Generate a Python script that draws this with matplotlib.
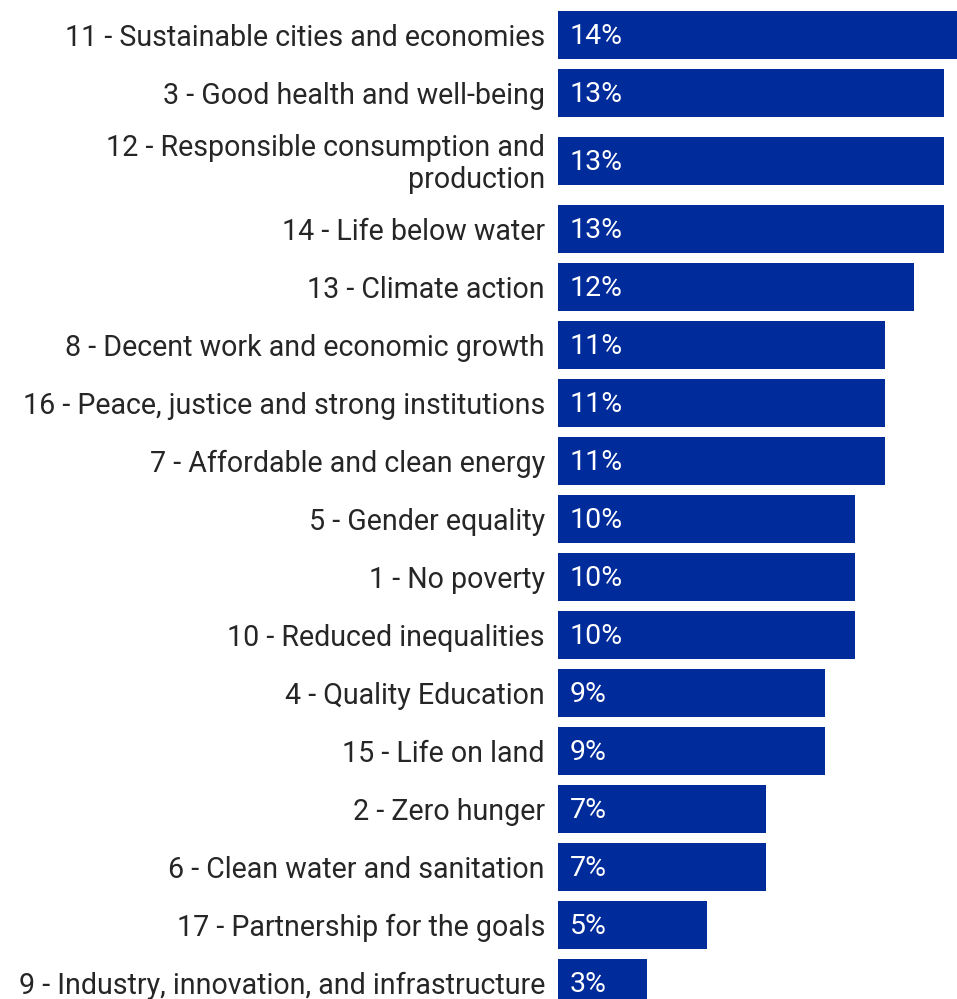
import matplotlib.pyplot as plt
from matplotlib import transforms

goals = [
    "11 - Sustainable cities and economies",
    "3 - Good health and well-being",
    "12 - Responsible consumption and\nproduction",
    "14 - Life below water",
    "13 - Climate action",
    "8 - Decent work and economic growth",
    "16 - Peace, justice and strong institutions",
    "7 - Affordable and clean energy",
    "5 - Gender equality",
    "1 - No poverty",
    "10 - Reduced inequalities",
    "4 - Quality Education",
    "15 - Life on land",
    "2 - Zero hunger",
    "6 - Clean water and sanitation",
    "17 - Partnership for the goals",
    "9 - Industry, innovation, and infrastructure",
]
shares = [14, 13, 13, 13, 12, 11, 11, 11, 10, 10, 10, 9, 9, 7, 7, 5, 3]

plt.rcParams["font.family"] = ["Roboto", "DejaVu Sans"]

W, H = 957, 999
fig = plt.figure(figsize=(W / 100, H / 100), dpi=100)
ax = fig.add_axes([558 / W, 0, 1 - 558 / W, 1])

# row positions in pixel units; wrapped labels get a little extra room
pitch, extra = 58, 10
ypos = []
y = 35
for i, g in enumerate(goals):
    if i > 0:
        y += pitch
        if "\n" in g or "\n" in goals[i - 1]:
            y += extra
    ypos.append(y)

ax.barh(ypos, shares, height=48, color="#002b9a", edgecolor="none")
for yy, v in zip(ypos, shares):
    ax.text(0.4, yy + 2, f"{v}%", color="white", fontsize=20.5, va="center", ha="left")

ax.set_yticks(ypos)
ax.set_yticklabels(goals, fontsize=20.6, color="#262626", linespacing=1.2)
ax.tick_params(axis="y", length=0, pad=9.4)
ax.set_xticks([])
ax.set_ylim(H, 0)
ax.set_xlim(0, 399 / 29.7)
for s in ax.spines.values():
    s.set_visible(False)

# nudge wrapped labels up a touch
shift = transforms.ScaledTranslation(0, 2.5 / 100, fig.dpi_scale_trans)
for lbl in ax.get_yticklabels():
    if "\n" in lbl.get_text():
        lbl.set_transform(lbl.get_transform() + shift)

fig.savefig("out.png", dpi=100)
